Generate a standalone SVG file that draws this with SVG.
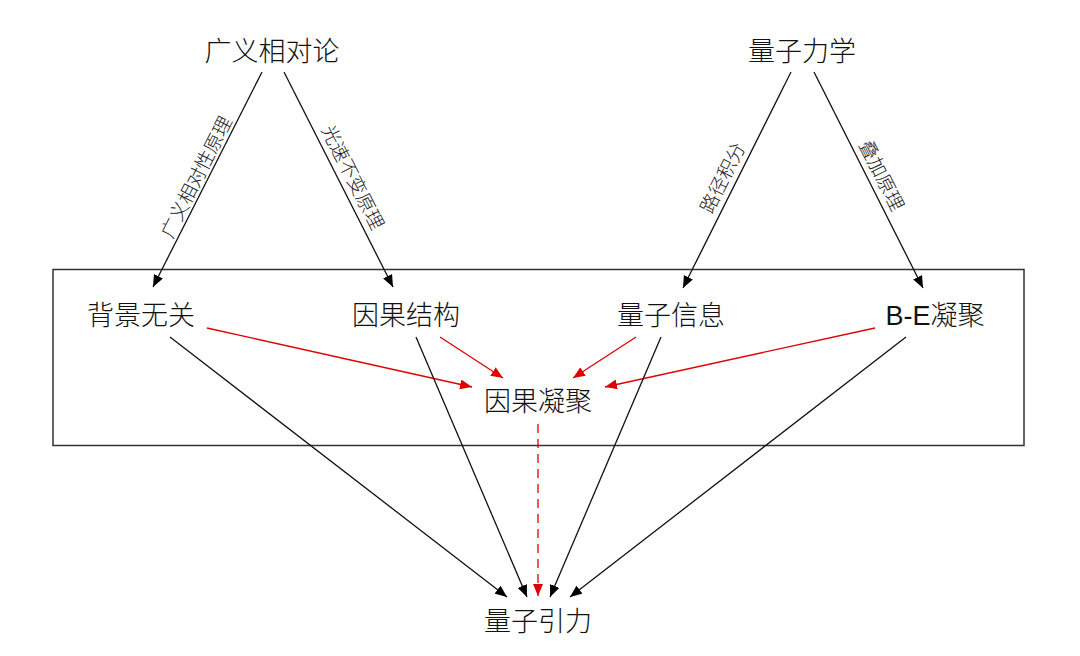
<svg xmlns="http://www.w3.org/2000/svg" width="1080" height="656" viewBox="0 0 1080 656">
  <defs>
    <style>
      .node { font-family: "Liberation Sans", "Noto Sans CJK SC", sans-serif; font-size: 27px; fill: #111; text-anchor: middle; font-weight: 300; }
      .lbl { font-family: "Liberation Serif", "Noto Sans CJK SC", serif; font-size: 19px; fill: #222; text-anchor: middle; font-weight: 300; }
      .blk { stroke: #111; stroke-width: 1.3; fill: none; marker-end: url(#ab); }
      .red { stroke: #e00000; stroke-width: 1.3; fill: none; marker-end: url(#ar); }
      .dash { stroke-dasharray: 9 6; }
    </style>
    <marker id="ab" markerUnits="userSpaceOnUse" markerWidth="12" markerHeight="10" refX="12" refY="5" orient="auto">
      <path d="M0,0 L12,5 L0,10 z" fill="#000"/>
    </marker>
    <marker id="ar" markerUnits="userSpaceOnUse" markerWidth="12" markerHeight="10" refX="12" refY="5" orient="auto">
      <path d="M0,0 L12,5 L0,10 z" fill="#e00000"/>
    </marker>
  </defs>
  <rect width="1080" height="656" fill="#fff"/>

  <g id="frame">
    <rect x="53" y="269.5" width="971" height="176" fill="none" stroke="#333" stroke-width="1.5"/>
  </g>

  <g id="connectors">
    <line class="blk" x1="262" y1="72" x2="153" y2="287"/>
    <line class="blk" x1="284" y1="72" x2="393" y2="287"/>
    <line class="blk" x1="791" y1="72" x2="683" y2="288"/>
    <line class="blk" x1="814" y1="72" x2="923" y2="288"/>

    <line class="red" x1="207" y1="328" x2="472" y2="387"/>
    <line class="red" x1="440" y1="337" x2="503" y2="378"/>
    <line class="red" x1="636" y1="337" x2="573" y2="378"/>
    <line class="red" x1="875" y1="328" x2="605" y2="387"/>

    <line class="blk" x1="170" y1="337" x2="507" y2="597"/>
    <line class="blk" x1="416" y1="337" x2="527" y2="597"/>
    <line class="red dash" x1="538" y1="424" x2="538" y2="596"/>
    <line class="blk" x1="661" y1="337" x2="550" y2="597"/>
    <line class="blk" x1="906" y1="337" x2="570" y2="597"/>

    <g transform="translate(206,182) rotate(-63.1)"><text class="lbl" x="0" y="-4">广义相对性原理</text></g>
    <g transform="translate(340.5,183.5) rotate(63.1)"><text class="lbl" x="0" y="-7">光速不变原理</text></g>
    <g transform="translate(735,184) rotate(-63.4)"><text class="lbl" x="0" y="-7">路径积分</text></g>
    <g transform="translate(869.3,181.6) rotate(63.2)"><text class="lbl" x="0" y="-7">叠加原理</text></g>
  </g>

  <g id="n-gr"><text class="node" x="272" y="61">广义相对论</text></g>
  <g id="n-qm"><text class="node" x="802" y="61">量子力学</text></g>
  <g id="n-bg"><text class="node" x="141" y="325">背景无关</text></g>
  <g id="n-cs"><text class="node" x="406" y="325">因果结构</text></g>
  <g id="n-qi"><text class="node" x="671" y="325">量子信息</text></g>
  <g id="n-be"><text class="node" x="935" y="325">B-E凝聚</text></g>
  <g id="n-cc"><text class="node" x="538" y="411">因果凝聚</text></g>
  <g id="n-qg"><text class="node" x="538" y="631">量子引力</text></g>
</svg>
